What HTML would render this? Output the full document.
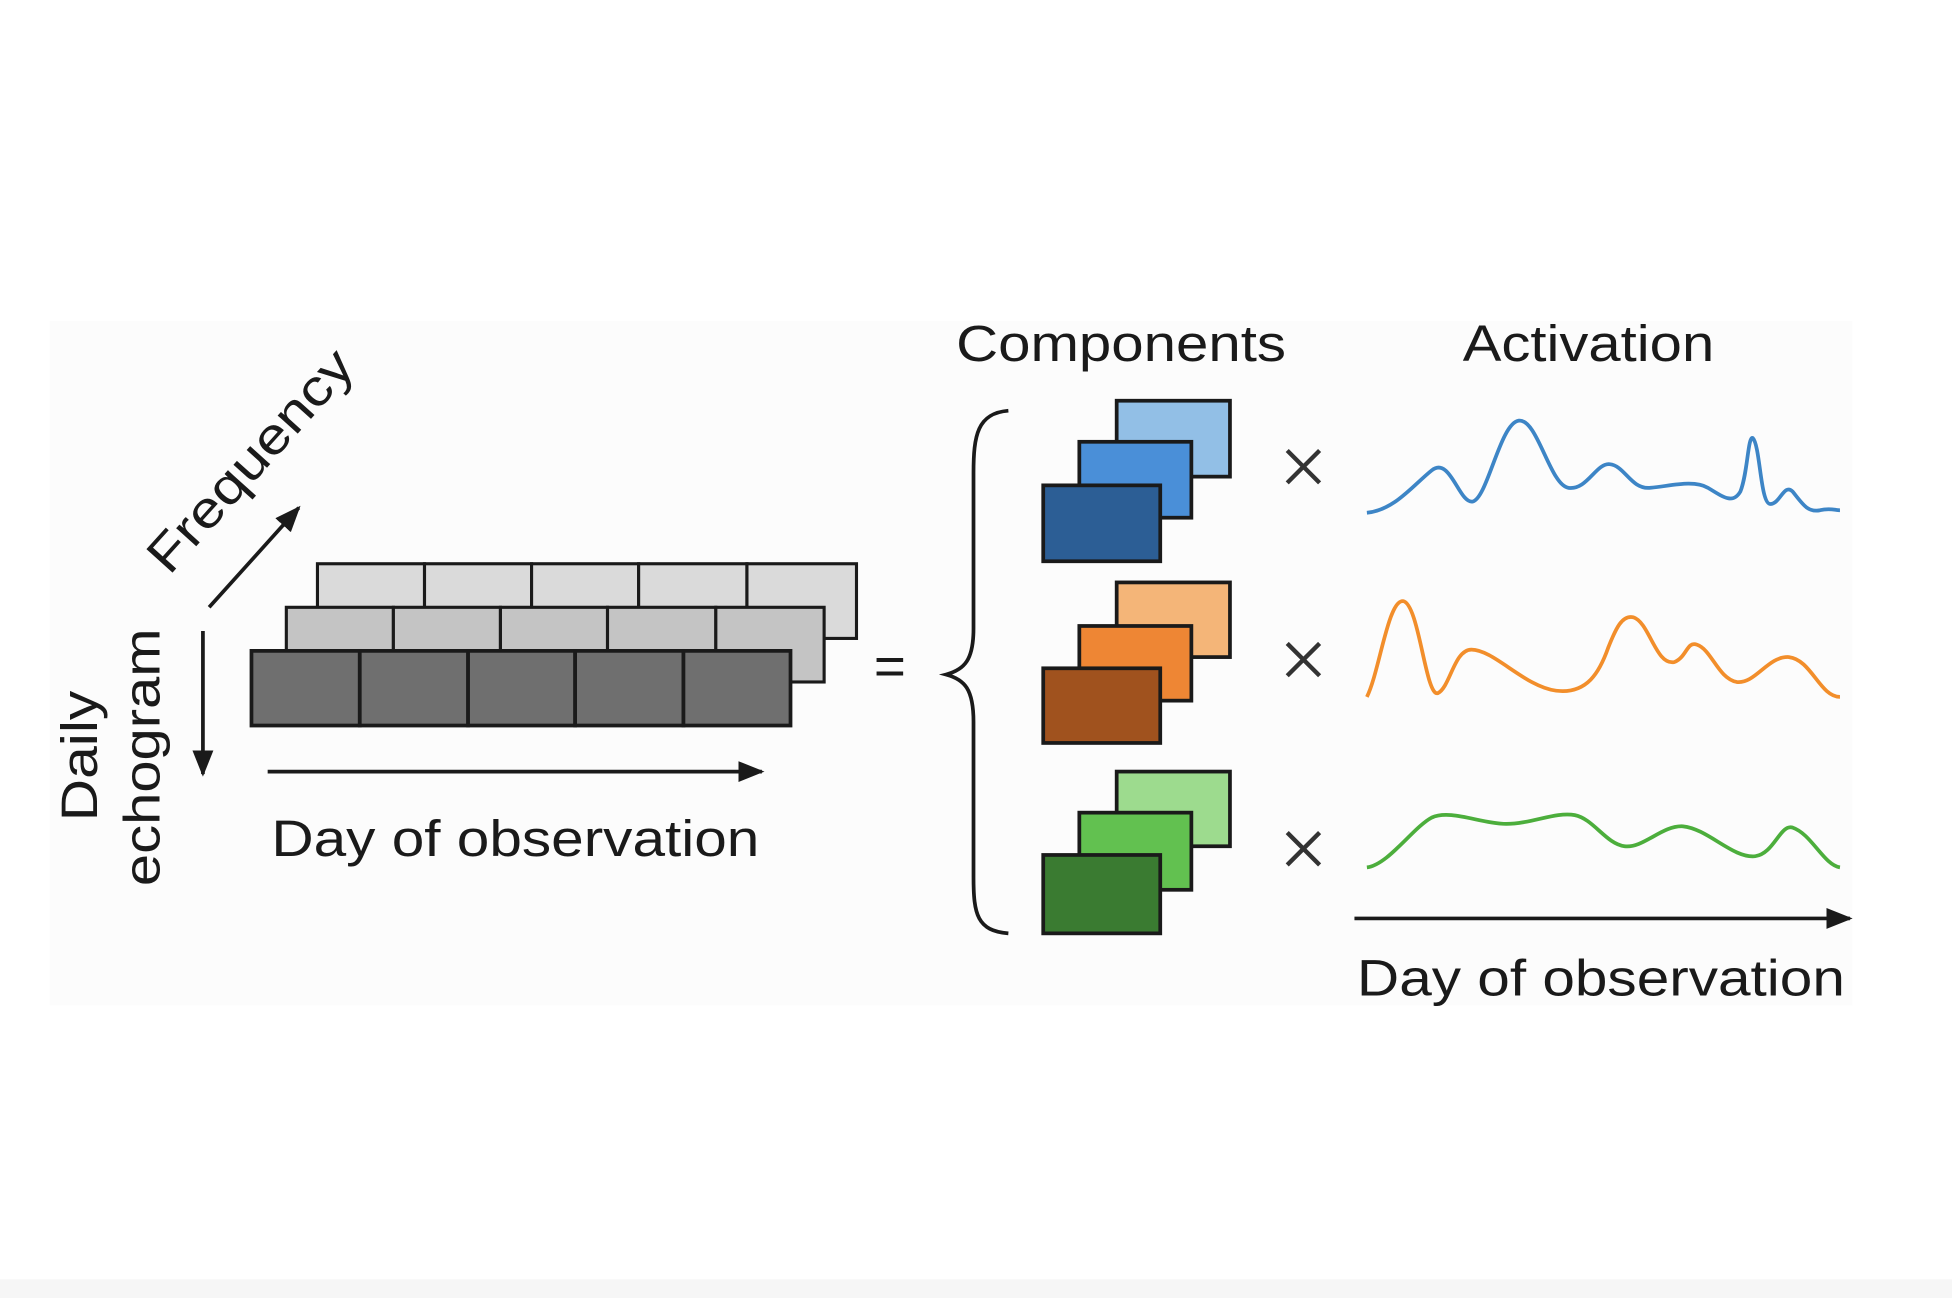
<!DOCTYPE html>
<html><head><meta charset="utf-8"><style>
html,body{margin:0;padding:0;background:#fff;}
svg{display:block;}
text{font-family:"Liberation Sans",sans-serif;fill:#1a1a1a;}
</style></head><body>
<svg width="1952" height="1298" viewBox="0 0 1568 1043" preserveAspectRatio="none" xmlns="http://www.w3.org/2000/svg">
<defs>
<marker id="ah" viewBox="0 0 10 10" refX="9" refY="5" markerWidth="7" markerHeight="7" orient="auto"><path d="M0,1 L10,5 L0,9 z" fill="#1a1a1a"/></marker>
</defs>
<rect width="1568" height="1043" fill="#fff"/>
<rect x="40" y="258" width="1448" height="550" fill="#fcfcfc"/>
<rect x="0" y="1028" width="1568" height="15" fill="#f6f6f6"/>
<g stroke="#1a1a1a" stroke-width="2.5">
<rect x="255" y="453" width="86" height="60" fill="#dadada"/><rect x="341" y="453" width="86" height="60" fill="#dadada"/><rect x="427" y="453" width="86" height="60" fill="#dadada"/><rect x="513" y="453" width="87" height="60" fill="#dadada"/><rect x="600" y="453" width="88" height="60" fill="#dadada"/>
<rect x="230" y="488" width="86" height="60" fill="#c4c4c4"/><rect x="316" y="488" width="86" height="60" fill="#c4c4c4"/><rect x="402" y="488" width="86" height="60" fill="#c4c4c4"/><rect x="488" y="488" width="87" height="60" fill="#c4c4c4"/><rect x="575" y="488" width="87" height="60" fill="#c4c4c4"/>
<rect x="202" y="523" width="87" height="60" fill="#6f6f6f" stroke-width="3"/><rect x="289" y="523" width="87" height="60" fill="#6f6f6f" stroke-width="3"/><rect x="376" y="523" width="86" height="60" fill="#6f6f6f" stroke-width="3"/><rect x="462" y="523" width="87" height="60" fill="#6f6f6f" stroke-width="3"/><rect x="549" y="523" width="86" height="60" fill="#6f6f6f" stroke-width="3"/>
</g>
<g stroke="#1a1a1a" stroke-width="3" fill="none" marker-end="url(#ah)">
<line x1="168" y1="488" x2="240" y2="408"/>
<line x1="163" y1="507" x2="163" y2="622"/>
<line x1="215" y1="620" x2="612" y2="620"/>
<line x1="1088" y1="738" x2="1486" y2="738"/>
</g>
<text font-size="41" textLength="225" lengthAdjust="spacingAndGlyphs" transform="translate(136,463) rotate(-48)">Frequency</text>
<text font-size="41" textLength="105" lengthAdjust="spacingAndGlyphs" transform="translate(78,660) rotate(-90)">Daily</text>
<text font-size="41" textLength="207" lengthAdjust="spacingAndGlyphs" transform="translate(128,712) rotate(-90)">echogram</text>
<text x="218" y="688" font-size="41" textLength="392" lengthAdjust="spacingAndGlyphs">Day of observation</text>
<text x="702" y="550" font-size="44">=</text>
<path d="M810,330 C785,332 782,350 782,380 L782,505 C782,530 775,538 760,542 C775,546 782,554 782,580 L782,705 C782,735 785,748 810,750" fill="none" stroke="#1a1a1a" stroke-width="3"/>
<text x="768" y="290" font-size="41" textLength="265" lengthAdjust="spacingAndGlyphs">Components</text>
<text x="1175" y="290" font-size="41" textLength="202" lengthAdjust="spacingAndGlyphs">Activation</text>
<g stroke="#1a1a1a" stroke-width="3">
<rect x="897" y="322" width="91" height="61" fill="#92bfe6"/><rect x="867" y="355" width="90" height="61" fill="#4a8fd8"/><rect x="838" y="390" width="94" height="61" fill="#2c5e95"/>
<rect x="897" y="468" width="91" height="60" fill="#f4b578"/><rect x="867" y="503" width="90" height="60" fill="#ee8634"/><rect x="838" y="537" width="94" height="60" fill="#a0521e"/>
<rect x="897" y="620" width="91" height="60" fill="#9ddb8e"/><rect x="867" y="653" width="90" height="62" fill="#62c150"/><rect x="838" y="687" width="94" height="63" fill="#3a7b31"/>
</g>
<g stroke="#333" stroke-width="3.5">
<path d="M1034,362 L1060,388 M1060,362 L1034,388"/>
<path d="M1034,517 L1060,543 M1060,517 L1034,543"/>
<path d="M1034,669 L1060,695 M1060,669 L1034,695"/>
</g>
<g fill="none" stroke-width="3">
<path stroke="#3d85c6" d="M1098,412 C1120,410 1135,390 1150,378 C1165,366 1172,405 1183,403 C1195,400 1205,340 1220,338 C1235,336 1245,390 1260,392 C1275,394 1282,372 1293,373 C1305,374 1310,393 1325,392 C1340,391 1360,385 1372,392 C1385,400 1392,405 1398,395 C1404,380 1404,350 1408,352 C1414,358 1414,405 1422,405 C1430,405 1433,388 1440,395 C1448,405 1452,412 1462,410 C1470,408 1474,410 1478,410"/>
<path stroke="#f28e2b" d="M1098,560 C1108,540 1115,482 1127,483 C1140,485 1145,560 1155,557 C1165,552 1168,522 1182,522 C1200,522 1225,552 1250,555 C1275,558 1285,540 1292,520 C1298,505 1303,494 1312,496 C1325,500 1330,535 1345,532 C1355,528 1355,515 1363,518 C1375,522 1380,545 1395,548 C1410,550 1420,527 1437,528 C1455,530 1462,560 1478,560"/>
<path stroke="#4cae3c" d="M1098,697 C1115,695 1135,665 1150,657 C1165,650 1190,662 1210,662 C1230,662 1250,652 1265,655 C1280,658 1290,678 1305,680 C1320,682 1335,663 1352,664 C1372,666 1392,690 1410,688 C1425,686 1430,662 1440,665 C1455,670 1465,695 1478,697"/>
</g>
<text x="1090" y="800" font-size="41" textLength="392" lengthAdjust="spacingAndGlyphs">Day of observation</text>
</svg>
</body></html>
